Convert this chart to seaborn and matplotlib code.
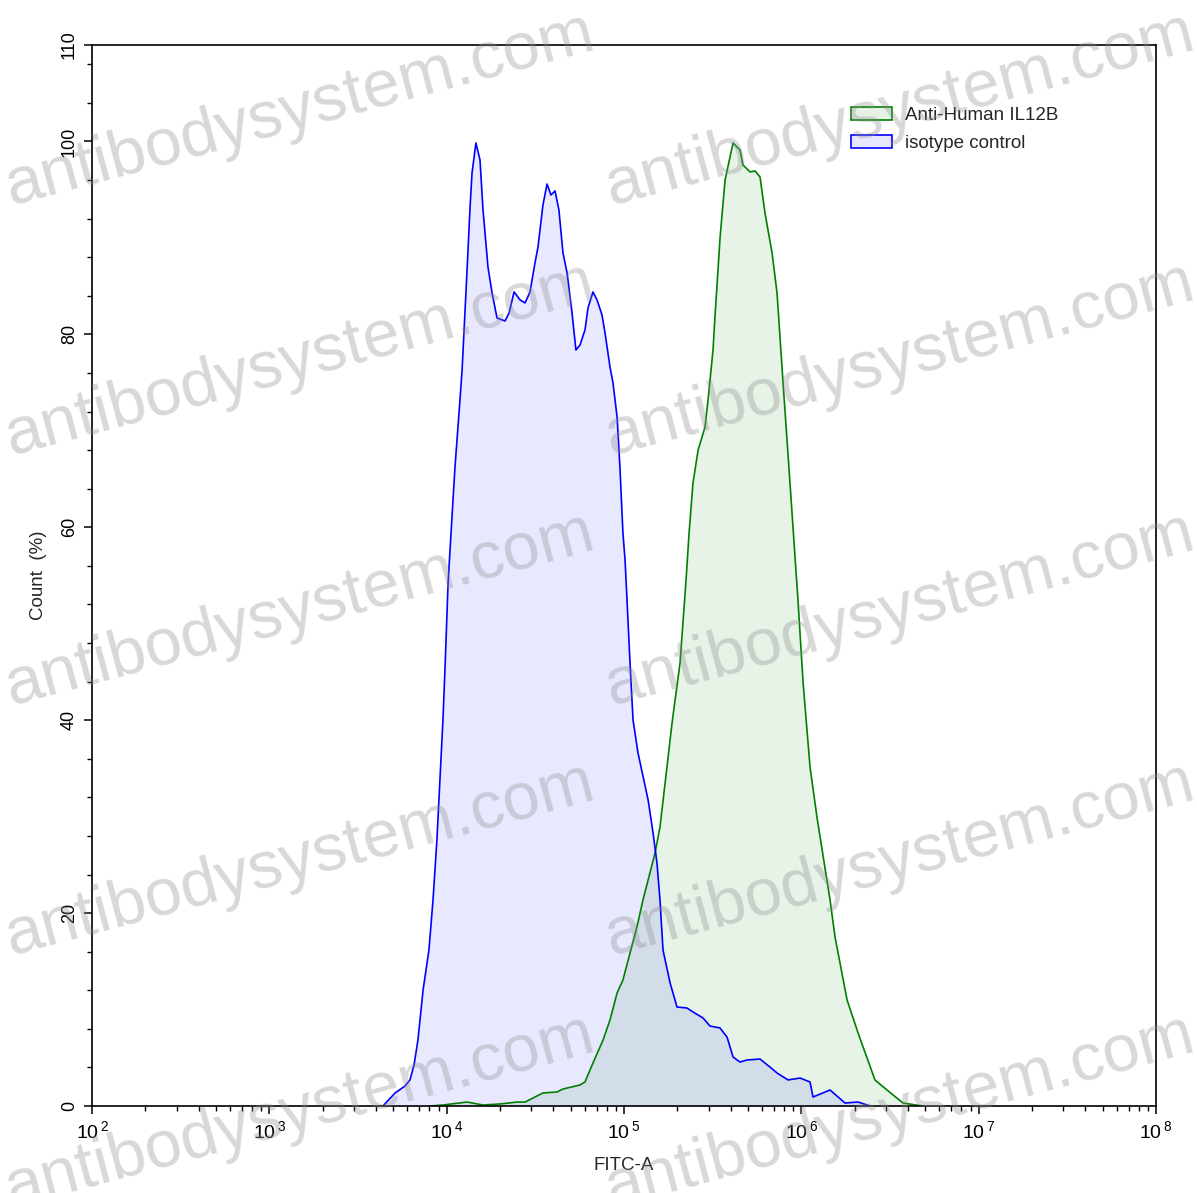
import numpy as np
import pandas as pd
import matplotlib
matplotlib.use("Agg")
import matplotlib.pyplot as plt
import seaborn as sns
from matplotlib.patches import Patch
from matplotlib.ticker import FixedLocator, LogLocator, NullFormatter

# log10(FITC-A) and Count (%)
iso_log = [3.641, 3.709, 3.765, 3.793, 3.816, 3.838, 3.867, 3.900, 3.923, 3.945,
           3.962, 3.979, 3.991, 4.008, 4.030, 4.047, 4.075, 4.087, 4.115, 4.132,
           4.143, 4.165, 4.188, 4.205, 4.233, 4.256, 4.284, 4.329, 4.352, 4.380,
           4.414, 4.442, 4.470, 4.498, 4.515, 4.543, 4.566, 4.588, 4.611, 4.633,
           4.656, 4.679, 4.707, 4.729, 4.752, 4.780, 4.797, 4.825, 4.848, 4.876,
           4.893, 4.921, 4.938, 4.961, 4.977, 4.994, 5.006, 5.017, 5.034, 5.051,
           5.079, 5.136, 5.164, 5.186, 5.203, 5.220, 5.260, 5.299, 5.355, 5.389,
           5.446, 5.485, 5.541, 5.581, 5.615, 5.654, 5.694, 5.767, 5.823, 5.863,
           5.925, 5.993, 6.049, 6.066, 6.162, 6.246, 6.320, 6.387]
iso_pct = [0.0, 1.35, 2.07, 2.70, 4.25, 6.84, 12.03, 16.17, 21.36, 27.58,
           33.80, 40.02, 45.52, 54.23, 61.07, 66.25, 73.20, 76.31, 86.68, 93.21,
           96.73, 99.84, 98.08, 92.90, 86.99, 84.29, 81.70, 81.39, 82.22, 84.40,
           83.57, 83.26, 84.40, 87.40, 89.06, 93.42, 95.59, 94.45, 94.87, 92.90,
           88.44, 86.37, 82.22, 78.38, 78.90, 80.46, 82.74, 84.40, 83.57, 82.01,
           80.15, 76.62, 74.96, 71.44, 66.25, 59.41, 56.60, 52.46, 45.93, 40.02,
           36.60, 31.73, 28.30, 25.19, 21.36, 16.17, 12.75, 10.26, 10.16, 9.75,
           9.12, 8.29, 8.09, 7.15, 5.08, 4.56, 4.77, 4.87, 4.04, 3.42,
           2.70, 2.90, 2.49, 0.93, 1.66, 0.31, 0.41, 0.0]

il12b_log = [3.906, 3.979, 4.115, 4.205, 4.301, 4.397, 4.442, 4.487, 4.543, 4.622,
             4.656, 4.752, 4.780, 4.825, 4.882, 4.921, 4.961, 4.994, 5.034, 5.073,
             5.107, 5.175, 5.203, 5.271, 5.316, 5.350, 5.367, 5.389, 5.418, 5.457,
             5.474, 5.502, 5.513, 5.542, 5.570, 5.615, 5.654, 5.671, 5.711, 5.739,
             5.767, 5.795, 5.835, 5.863, 5.897, 5.936, 5.981, 6.010, 6.049, 6.088,
             6.162, 6.190, 6.258, 6.320, 6.415, 6.483, 6.573, 6.686]
il12b_pct = [0.0, 0.10, 0.41, 0.10, 0.21, 0.41, 0.41, 0.83, 1.35, 1.45,
             1.76, 2.18, 2.49, 4.46, 6.84, 8.92, 11.72, 13.06, 15.86, 18.56,
             21.36, 26.23, 28.93, 39.71, 45.93, 54.54, 59.41, 64.59, 68.01, 70.40,
             73.20, 78.38, 81.80, 90.10, 96.01, 99.84, 99.12, 97.56, 96.84, 96.94,
             96.32, 92.59, 88.44, 84.29, 74.96, 64.59, 52.46, 43.86, 35.15, 29.96,
             21.36, 17.52, 10.99, 7.57, 2.70, 1.66, 0.31, 0.0]

labels = ["Anti-Human IL12B", "isotype control"]
line_colors = ["#008000", "#0000ff"]
fill_colors = ["#e6f2e6", "#e6e6ff"]

y_major = [0, 20, 40, 60, 80, 100, 110]
y_minor = [v for v in range(0, 111, 4) if v not in y_major]

df_il = pd.DataFrame({"FITC-A": 10 ** np.array(il12b_log), "Count": il12b_pct})
df_iso = pd.DataFrame({"FITC-A": 10 ** np.array(iso_log), "Count": iso_pct})

sns.set_theme(style="ticks")
plt.rcParams["font.family"] = ["Liberation Sans", "DejaVu Sans"]
plt.rcParams["mathtext.fontset"] = "custom"
plt.rcParams["mathtext.rm"] = "Liberation Sans"

fig = plt.figure(figsize=(11.97, 11.93), dpi=100)
ax = fig.add_axes([92 / 1197, 1 - 1106 / 1193, (1156 - 92) / 1197, (1106 - 45) / 1193])

# green first, isotype on top
ax.fill_between(df_il["FITC-A"], df_il["Count"], color="#008000", alpha=0.09, lw=0)
ax.fill_between(df_iso["FITC-A"], df_iso["Count"], color="#0000ff", alpha=0.09, lw=0)
sns.lineplot(data=df_il, x="FITC-A", y="Count", color=line_colors[0], lw=1.2,
             estimator=None, sort=False, ax=ax)
sns.lineplot(data=df_iso, x="FITC-A", y="Count", color=line_colors[1], lw=1.2,
             estimator=None, sort=False, ax=ax)

ax.set_xscale("log")
ax.set_xlim(1e2, 1e8)
ax.set_ylim(0, 110)
ax.set_xticks([10 ** k for k in range(2, 9)])
ax.set_xticklabels([r"$\mathregular{10^{\,%d}}$" % k for k in range(2, 9)])
ax.xaxis.set_minor_locator(LogLocator(base=10, subs=np.arange(2, 10)))
ax.xaxis.set_minor_formatter(NullFormatter())
ax.yaxis.set_major_locator(FixedLocator(y_major))
ax.yaxis.set_minor_locator(FixedLocator(y_minor))
ax.set_yticklabels([str(v) for v in y_major], rotation=90, va="center")

ax.tick_params(axis="both", which="major", length=6, width=1.1, labelsize=13,
               color="black", labelcolor="black", direction="out")
ax.tick_params(axis="both", which="minor", length=3.5, width=1.0, color="black",
               direction="out")
ax.tick_params(axis="x", which="major", pad=4, labelsize=14)
ax.tick_params(axis="y", which="major", pad=4)
for sp in ax.spines.values():
    sp.set_visible(True)
    sp.set_linewidth(1.2)
    sp.set_color("black")

ax.set_xlabel("FITC-A", fontsize=13.5, labelpad=11)
ax.set_ylabel("Count  (%)", fontsize=13.5, labelpad=10)

handles = [Patch(facecolor=fill_colors[i], edgecolor=line_colors[i], lw=1.2)
           for i in range(2)]
ax.legend(handles, labels, loc="upper left", frameon=False, fontsize=13.5,
          bbox_to_anchor=(851 / 1197, 1 - 107 / 1193), bbox_transform=fig.transFigure,
          borderpad=0, borderaxespad=0, handlelength=2.2, handleheight=0.65,
          handletextpad=0.7, labelspacing=0.58)

# watermark
for cx in (300, 900):
    for cy in (110, 360, 610, 860, 1112):
        fig.text(cx / 1197, 1 - cy / 1193, "antibodysystem.com", fontsize=48,
                 color="#8c8c8c", alpha=0.34, rotation=15, ha="center", va="center",
                 rotation_mode="anchor")

fig.savefig("out.png", dpi=100)
